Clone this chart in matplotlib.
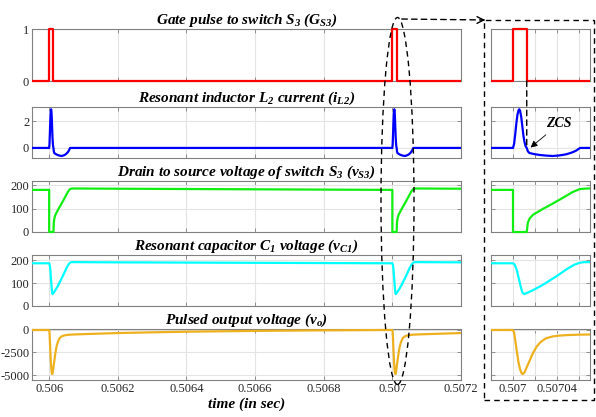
import numpy as np
import matplotlib
matplotlib.use('Agg')
from matplotlib import pyplot as plt
from matplotlib.patches import Ellipse, Rectangle, FancyArrowPatch, ConnectionPatch

plt.rcParams['font.family'] = ['Liberation Serif', 'DejaVu Serif']
plt.rcParams['mathtext.fontset'] = 'custom'
plt.rcParams['mathtext.rm'] = 'Liberation Serif:bold:italic'
plt.rcParams['mathtext.it'] = 'Liberation Serif:bold:italic'
plt.rcParams['mathtext.bf'] = 'Liberation Serif:bold:italic'

# switching instants (sec) and time of the zero current crossing
t_first = 0.506
zcs_t = 0.5070125

# gate pulse, time in microseconds after t_first
gate_us = [-50, 0, 0, 12.5, 12.5, 1000, 1000, 1012.5, 1012.5, 1200]
gate_val = [0, 0, 1, 1, 0, 0, 1, 1, 0, 0]

# one switching event, time in microseconds after the gate turns on
il2_us = [0, 1, 2, 3, 4, 5, 5.7, 6.5, 7.5, 8.5, 9.5, 10.5, 11.5, 12.5, 13.5, 15, 20, 25, 30, 36, 42, 48, 53, 57, 61]
il2_val = [0, 0.3, 1.0, 1.8, 2.45, 2.8, 2.88, 2.75, 2.3, 1.6, 0.9, 0.42, 0.12, 0, -0.25, -0.38, -0.47, -0.53, -0.57, -0.6, -0.56, -0.48, -0.36, -0.22, 0]
il2_tail_us = [70, 200, 990]
il2_tail_val = [0, 0, 0]

vs3_us = [0, 0, 12.5, 13.5, 15.3, 18.3, 27.3, 36.3, 45.3, 54.3, 60.4, 64, 69.4]
vs3_val = [180, 0, 0, 40, 59, 74, 99, 122, 146, 171, 183, 185, 186]
vs3_tail_us = [200, 990]
vs3_tail_val = [185, 180]

vc1_us = [0, 1.5, 3.3, 5, 6.3, 7.5, 8.7, 10.2, 12.3, 16, 21.4, 26, 30.4, 35, 40, 46, 51.4, 56, 60.4, 65, 70]
vc1_val = [186, 180, 159, 125, 100, 75, 57, 52, 56, 64, 77, 89, 102, 116, 131, 151, 168, 180, 188, 191, 191]
vc1_tail_us = [200, 990]
vc1_tail_val = [190, 186]

vo_us = [0, 1, 2, 3.5, 5, 6.5, 8, 9, 10.5, 13, 15.5, 18, 21.5, 25, 30, 36, 42, 50, 60, 70]
vo_val = [0, -300, -1100, -2400, -3600, -4400, -4850, -4900, -4700, -4000, -3300, -2600, -1850, -1350, -920, -720, -620, -560, -520, -500]
vo_tail_us = [100, 150, 200, 300, 400, 600, 800, 990]
vo_tail_val = [-460, -400, -340, -260, -190, -100, -40, 0]


def build(ev_us, ev_val, tail_us, tail_val):
    # two switching events, the second one cut at 0.5072 s
    t = [-50] + ev_us + tail_us + [1000 + u for u in ev_us]
    v = [tail_val[-1]] + ev_val + tail_val + ev_val
    t += [1000 + u for u in tail_us if u <= 200]
    v += [val for u, val in zip(tail_us, tail_val) if u <= 200]
    return t_first + np.array(t) * 1e-6, np.array(v)


rows = [
    (t_first + np.array(gate_us) * 1e-6, np.array(gate_val)),
    build(il2_us, il2_val, il2_tail_us, il2_tail_val),
    build(vs3_us, vs3_val, vs3_tail_us, vs3_tail_val),
    build(vc1_us, vc1_val, vc1_tail_us, vc1_tail_val),
    build(vo_us, vo_val, vo_tail_us, vo_tail_val),
]
colors = ['#ff0000', '#0000ff', '#11ee11', '#00ffff', '#edb120']
titles = [
    'Gate pulse to switch $S_3$ ($G_{S3}$)',
    'Resonant inductor $L_2$ current ($i_{L2}$)',
    'Drain to source voltage of switch $S_3$ ($v_{S3}$)',
    'Resonant capacitor $C_1$ voltage ($v_{C1}$)',
    'Pulsed output voltage ($v_o$)',
]
ylims = [(0, 1), (-0.75, 3.05), (0, 218), (0, 222), (-5555, 110)]
yticks = [[0, 1], [0, 2], [0, 100, 200], [0, 100, 200], [-5000, -2500, 0]]
ytick_labels = [['0', '1'], ['0', '2'], ['0', '100', '200'], ['0', '100', '200'], ['-5000', '-2500', '0']]

left_ticks = [0.506, 0.5062, 0.5064, 0.5066, 0.5068, 0.507, 0.5072]
left_labels = ['0.506', '0.5062', '0.5064', '0.5066', '0.5068', '0.507', '0.5072']
right_ticks = [0.507, 0.50702, 0.50704, 0.50706]
right_labels = ['0.507', '', '0.50704', '']

W, H = 596, 417
fig = plt.figure(figsize=(W / 100, H / 100), dpi=100)

# axes tops / bottoms in pixels
row_px = [(29, 81), (107, 158), (181, 232), (255, 306), (329, 380)]


def style(ax):
    ax.grid(True, color='#e4e4e4', lw=0.8)
    ax.set_axisbelow(True)
    for s in ax.spines.values():
        s.set_color('#808080')
        s.set_linewidth(0.8)
    ax.tick_params(direction='in', length=3, width=0.6, top=True, right=True,
                   colors='#808080', labelcolor='#262626', labelsize=9, pad=2)


axes_r = []
for i, (t, v) in enumerate(rows):
    top, bot = row_px[i]
    axl = fig.add_axes([32 / W, 1 - bot / H, (461 - 32) / W, (bot - top) / H])
    axr = fig.add_axes([491 / W, 1 - bot / H, (590 - 491) / W, (bot - top) / H])
    for ax in (axl, axr):
        line, = ax.plot(t, v, color=colors[i], lw=1.6, zorder=3)
        # clip in x only, so traces sitting on the top/bottom limit stay whole
        line.set_clip_path(Rectangle((0, -0.1), 1, 1.2, transform=ax.transAxes))
        ax.set_ylim(*ylims[i])
        ax.set_yticks(yticks[i])
        style(ax)
    axl.set_yticklabels(ytick_labels[i])
    axr.set_yticklabels([])
    axl.set_xlim(0.50595, 0.5072)
    axr.set_xlim(0.50698, 0.50707)
    axl.set_xticks(left_ticks)
    axr.set_xticks(right_ticks)
    if i == 4:
        axl.set_xticklabels(left_labels)
        axr.set_xticklabels(right_labels)
        axl.set_xlabel('time (in sec)', fontsize=11, fontweight='bold', fontstyle='italic', labelpad=2)
    else:
        axl.set_xticklabels([])
        axr.set_xticklabels([])
    axl.set_title(titles[i], fontsize=11, fontweight='bold', fontstyle='italic', pad=4)
    axes_r.append(axr)

# zoom markers
tf = fig.transFigure
dash = (0, (4, 3))
fig.add_artist(Ellipse((397.5 / W, 1 - 201 / H), 33 / W, 367 / H, transform=tf,
                       fill=False, ls=dash, lw=1, ec='k'))
fig.add_artist(FancyArrowPatch((399 / W, 1 - 19 / H), (487 / W, 1 - 20 / H), transform=tf,
                               arrowstyle='-', ls=dash, lw=1, color='k'))
fig.add_artist(FancyArrowPatch((478 / W, 1 - 20 / H), (488 / W, 1 - 20 / H), transform=tf,
                               arrowstyle='->', mutation_scale=12, lw=1, color='k'))
fig.add_artist(Rectangle((484 / W, 1 - 400 / H), 110 / W, 380 / H, transform=tf,
                         fill=False, ls=dash, lw=1, ec='k'))

# zero current switching marker
fig.add_artist(ConnectionPatch(xyA=(zcs_t, 0), coordsA=axes_r[0].transData,
                               xyB=(zcs_t, 0), coordsB=axes_r[1].transData,
                               ls=dash, lw=1, color='k'))
axes_r[1].annotate('ZCS', xy=(0.507014, -0.1), xytext=(0.507042, 1.8),
                   fontsize=10, fontweight='bold', fontstyle='italic', ha='center', va='center',
                   arrowprops=dict(arrowstyle='-|>', color='k', lw=0.6, mutation_scale=10))

fig.savefig('out.png', dpi=100)
